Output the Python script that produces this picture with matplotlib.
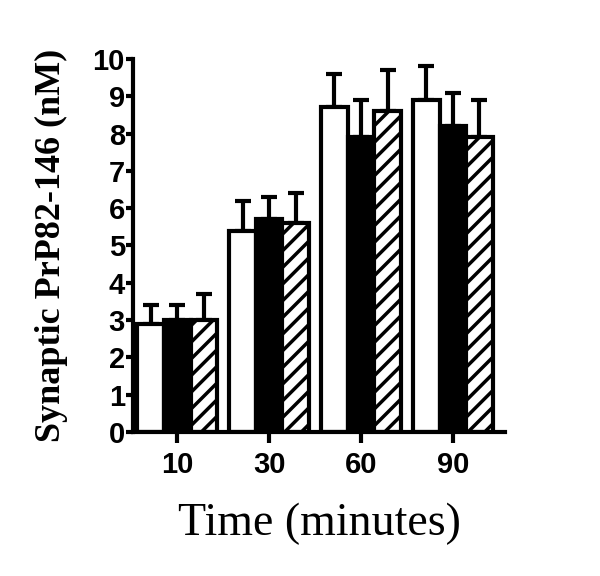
import numpy as np
import matplotlib
matplotlib.use("Agg")
import matplotlib.pyplot as plt

# Synaptic PrP82-146 levels over time, three conditions
times = ["10", "30", "60", "90"]
open_vals = [2.9, 5.4, 8.7, 8.9]
open_err = [0.5, 0.8, 0.9, 0.9]
solid_vals = [3.0, 5.7, 7.9, 8.2]
solid_err = [0.4, 0.6, 1.0, 0.9]
hatch_vals = [3.0, 5.6, 8.6, 7.9]
hatch_err = [0.7, 0.8, 1.1, 1.0]

plt.rcParams['hatch.linewidth'] = 2.5

fig = plt.figure(figsize=(6, 5.76), dpi=100)
ax = fig.add_axes([0.222, 0.25, 0.62, 0.6476])

x = np.arange(len(times))
w = 0.29
lw = 3
ekw = dict(elinewidth=lw, capsize=6, capthick=lw, ecolor='black')

for off, vals, err, fc, hatch in [(-w, open_vals, open_err, 'white', None),
                                  (0, solid_vals, solid_err, 'black', None),
                                  (w, hatch_vals, hatch_err, 'white', '//')]:
    ax.bar(x + off, vals, w, color=fc, edgecolor='black', linewidth=lw,
           hatch=hatch, zorder=2)
    ax.errorbar(x + off, vals, yerr=[np.zeros(len(err)), err], fmt='none',
                zorder=1, **ekw)

ax.set_xlim(-0.48, 3.57)
ax.set_ylim(0, 10)
ax.set_yticks(range(0, 11))
ax.set_xticks(x)
ax.set_xticklabels(times)

for s in ['top', 'right']:
    ax.spines[s].set_visible(False)
for s in ['left', 'bottom']:
    ax.spines[s].set_linewidth(lw)

ax.tick_params(axis='both', width=lw, length=5, direction='out', pad=1)
ax.tick_params(axis='x', length=8, pad=6)
for lab in ax.get_xticklabels() + ax.get_yticklabels():
    lab.set_fontfamily('Liberation Sans')
    lab.set_fontweight('bold')
    lab.set_fontsize(21)

ax.set_ylabel("Synaptic PrP82-146 (nM)", family='Liberation Serif',
              fontweight='bold', fontsize=26)
ax.yaxis.set_label_coords(-0.176, 0.5)
ax.set_xlabel("Time (minutes)", family='Liberation Serif', fontsize=33)
ax.xaxis.set_label_coords(0.5, -0.19)

fig.savefig("out.png", dpi=100)
